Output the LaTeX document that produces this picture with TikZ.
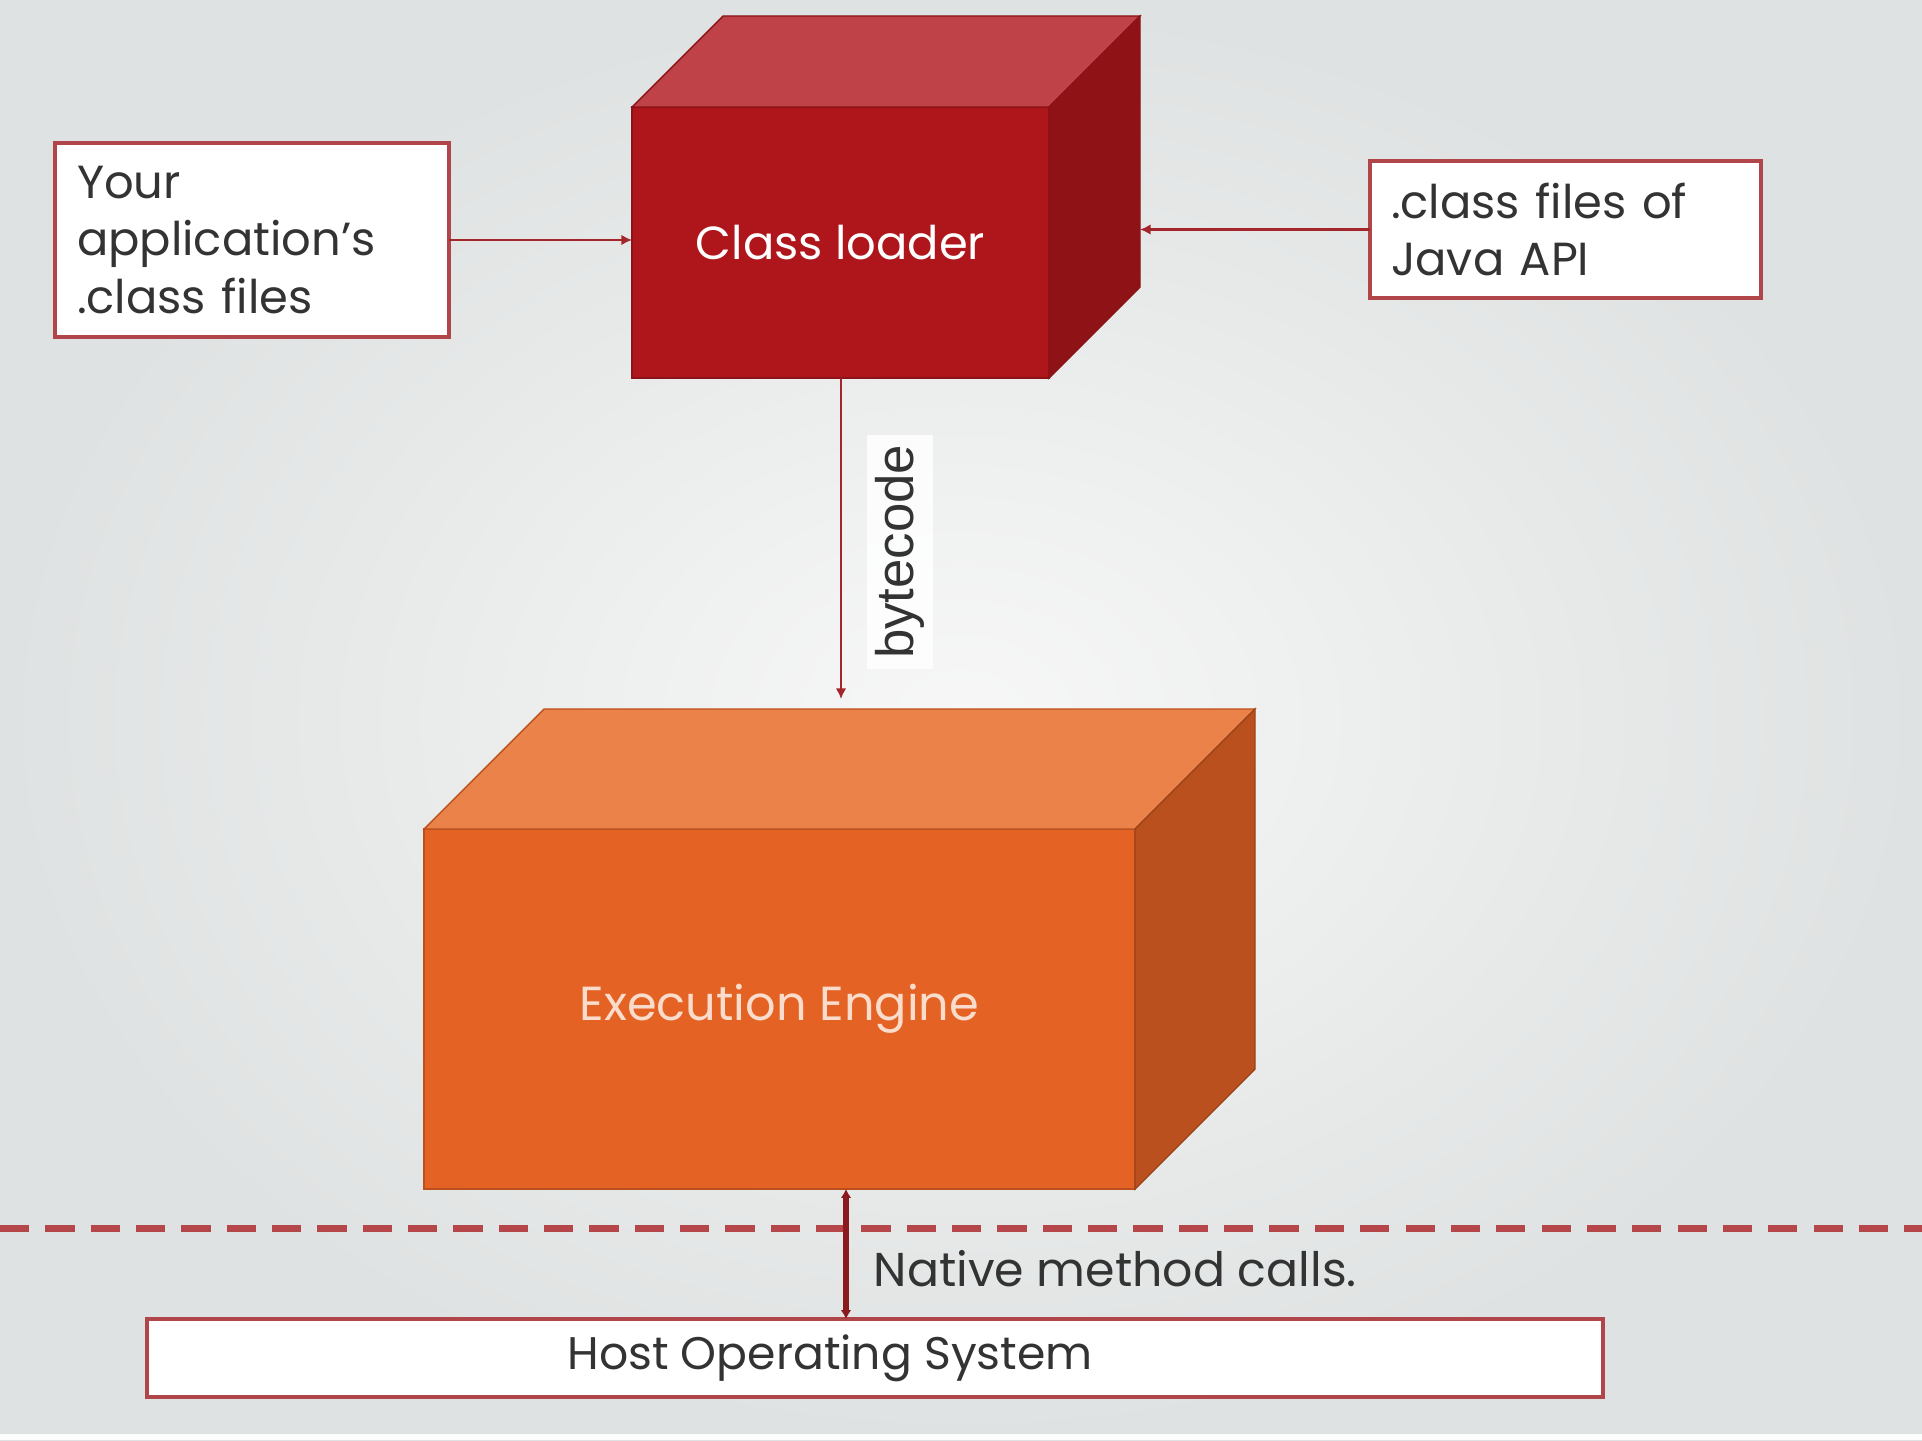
\documentclass[tikz,border=0pt]{standalone}
\usepackage{fontspec}
\setmainfont{Poppins}
\setsansfont{Liberation Sans}
\usetikzlibrary{positioning,arrows.meta,calc}

\definecolor{loaderfront}{HTML}{AE161B}
\definecolor{loadertop}{HTML}{BE4247}
\definecolor{loaderside}{HTML}{8E1216}
\definecolor{enginefront}{HTML}{E46223}
\definecolor{enginetop}{HTML}{EB8249}
\definecolor{engineside}{HTML}{BA501E}
\definecolor{enginetext}{HTML}{F9DCCB}
\definecolor{boxline}{HTML}{B0454A}
\definecolor{arrowred}{HTML}{A3262B}
\definecolor{nativered}{HTML}{8B1A1E}
\definecolor{dashred}{HTML}{B5474B}
\definecolor{textgray}{HTML}{333333}
\definecolor{bgouter}{HTML}{DFE2E2}
\definecolor{bginner}{HTML}{F7F7F7}

\tikzset{
  filebox/.style={draw=boxline, line width=0.9pt, fill=white, text=textgray,
    align=left, outer sep=0pt, font=\fontsize{13.2}{16.4}\selectfont},
  cubefront/.style={outer sep=0pt, inner sep=0pt, line width=0.4pt},
  link/.style={draw=arrowred, line width=0.6pt, -{Latex[length=3pt,width=3pt]}},
  nativelink/.style={draw=nativered, line width=1.9pt,
    {Latex[length=2.5pt,width=3pt]}-{Latex[length=2.5pt,width=3pt]}},
  sepline/.style={draw=dashred, line width=2pt, dash pattern=on 8.3pt off 4.6pt}
}

\begin{document}
\begin{tikzpicture}[x=0.1mm, y=-0.1mm]
    % Background
    \useasboundingbox (0,0) rectangle (1922,1440);
    \shade[inner color=bginner, outer color=bgouter] (0,0) rectangle (1922,1440);
    \fill[white!95!bgouter] (0,1434) rectangle (1922,1440);

    % Class loader cube
    \node[cubefront, fill=loaderfront, draw=loaderfront!80!black,
      minimum width=41.7mm, minimum height=27.1mm, text=white,
      font=\fontsize{13.2}{16}\selectfont] (cl) at (840.5,242.5) {Class loader};
    \filldraw[loadertop, draw=loaderfront!80!black, line width=0.4pt]
      (cl.north west) -- ++(91,-91) -- ++(417,0) -- (cl.north east) -- cycle;
    \filldraw[loaderside, draw=loaderfront!80!black, line width=0.4pt]
      (cl.north east) -- ++(91,-91) -- ++(0,271) -- (cl.south east) -- cycle;
    \coordinate (clback) at ($(cl.north east)+(91,-91)$);

    % Execution engine cube
    \node[cubefront, fill=enginefront, draw=engineside,
      minimum width=71.1mm, minimum height=36mm, text=enginetext,
      font=\fontsize{13.6}{16}\selectfont] (ee) at (779.5,1009) {Execution Engine};
    \filldraw[enginetop, draw=engineside, line width=0.4pt]
      (ee.north west) -- ++(120,-120) -- ++(711,0) -- (ee.north east) -- cycle;
    \filldraw[engineside, draw=engineside!85!black, line width=0.4pt]
      (ee.north east) -- ++(120,-120) -- ++(0,360) -- (ee.south east) -- cycle;

    % Input files
    \node[filebox, text width=35mm, inner xsep=2.2mm, minimum height=19.4mm]
      (app) at (252,240) {Your\\application's\\.class files};
    \node[filebox, text width=34.9mm, inner xsep=2.1mm, minimum height=13.7mm]
      (api) at (1565.5,229.5) {.class files of\\Java API};

    \draw[link] (app.east) -- (app.east -| cl.west);
    \draw[link] (api.west) -- (api.west -| clback);

    % Bytecode
    \coordinate (bcend) at (841,699);
    \draw[link] (cl.south -| bcend) -- (bcend);
    \node[fill=white, fill opacity=0.85, text opacity=1, rotate=90, text=textgray,
      font=\sffamily\fontsize{15}{18}\selectfont, minimum width=23mm,
      inner xsep=1mm, inner ysep=0.8mm] (bc) at (900,552) {bytecode};

    % Host boundary
    \draw[sepline] (0,1228) -- (1922,1228);
    \node[filebox, minimum width=145.6mm, minimum height=7.8mm] (host) at (875,1358) {};
    \node[text=textgray, font=\fontsize{13}{16}\selectfont] (hostlabel) at (830,1358)
      {Host Operating System};

    \coordinate (nat) at (846,1250);
    \draw[nativelink] (ee.south -| nat) -- (host.north -| nat);
    \node[text=textgray, anchor=west, inner sep=0pt, font=\fontsize{13.5}{16}\selectfont]
      (natlabel) at (873,1269) {Native method calls.};
\end{tikzpicture}
\end{document}
